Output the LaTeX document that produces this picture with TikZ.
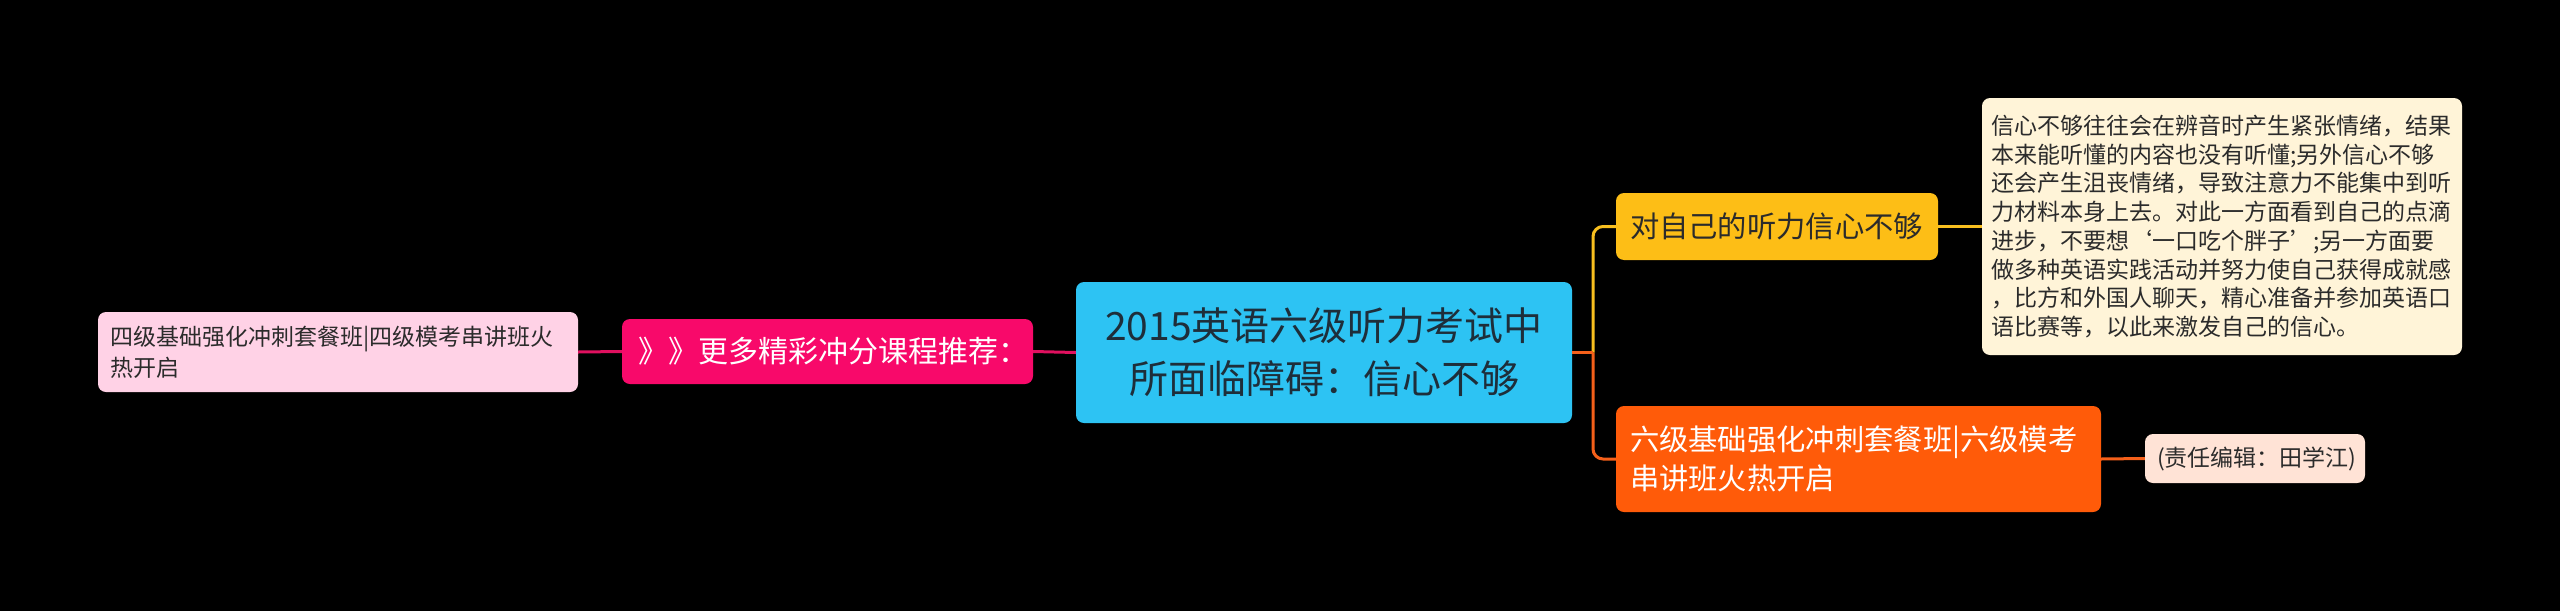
\documentclass[tikz,border=0pt]{standalone}
\usepackage{fontspec}
\setmainfont{Noto Sans CJK SC}
\definecolor{bgc}{HTML}{000000}
\definecolor{rootc}{HTML}{2DC3F3}
\definecolor{roottxt}{HTML}{1E2E3A}
\definecolor{magc}{HTML}{F8096A}
\definecolor{magline}{HTML}{E0105F}
\definecolor{pinkc}{HTML}{FFD2E6}
\definecolor{goldc}{HTML}{FDBE16}
\definecolor{goldline}{HTML}{F8BF1F}
\definecolor{tanc}{HTML}{FFF4D8}
\definecolor{orangec}{HTML}{FF5B09}
\definecolor{orangeline}{HTML}{F5601A}
\definecolor{peachc}{HTML}{FFE3D6}
\definecolor{darktxt}{HTML}{2B2B2B}
\tikzset{
  box/.style={rounded corners=8pt, inner ysep=0pt, draw=none},
  conn/.style={line width=3pt},
}
\begin{document}
\begin{tikzpicture}[x=1pt,y=-1pt]
\fill[bgc] (0,0) rectangle (2560,611);
\useasboundingbox (0,0) rectangle (2560,611);

% root
\node[box, fill=rootc, text=roottxt, minimum width=496pt, minimum height=141pt,
      text width=470pt, inner xsep=13pt, align=center,
      font=\fontsize{39}{53}\selectfont] (root) at (1324,352.5)
  {2015英语六级听力考试中\\所面临障碍：信心不够};

% left branch
\node[box, fill=magc, text=white, minimum height=65pt,
      text width=379pt, inner xsep=16pt, align=left,
      font=\fontsize{30}{38}\selectfont] (recommend) at (827.5,351.5)
  {》》更多精彩冲分课程推荐：};
\node[box, fill=pinkc, text=darktxt, minimum height=80pt,
      text width=456pt, inner xsep=12pt, align=left,
      font=\fontsize{23}{31}\selectfont] (course4) at (338,352)
  {四级基础强化冲刺套餐班|四级模考串讲班火\\热开启};

% right upper branch
\node[box, fill=goldc, text=darktxt, minimum height=67pt,
      text width=294pt, inner xsep=14pt, align=left,
      font=\fontsize{29.3}{38}\selectfont] (confidence) at (1777,226.5)
  {对自己的听力信心不够};
\node[box, fill=tanc, text=darktxt, minimum height=257pt,
      text width=462pt, inner xsep=9pt, align=left,
      font=\fontsize{23}{28.7}\selectfont] (detail) at (2222,226.5)
  {信心不够往往会在辨音时产生紧张情绪，结果\\
   本来能听懂的内容也没有听懂;另外信心不够\\
   还会产生沮丧情绪，导致注意力不能集中到听\\
   力材料本身上去。对此一方面看到自己的点滴\\
   进步，不要想‘一口吃个胖子’;另一方面要\\
   做多种英语实践活动并努力使自己获得成就感\\
   ，比方和外国人聊天，精心准备并参加英语口\\
   语比赛等，以此来激发自己的信心。};

% right lower branch
\node[box, fill=orangec, text=white, minimum height=106pt,
      text width=457pt, inner xsep=14pt, align=left,
      font=\fontsize{29.3}{39}\selectfont] (course6) at (1858.5,459)
  {六级基础强化冲刺套餐班|六级模考\\串讲班火热开启};
\node[box, fill=peachc, text=darktxt, minimum height=49pt,
      text width=196pt, inner xsep=12pt, align=left,
      font=\fontsize{23}{29}\selectfont] (editor) at (2255,458.5)
  {(责任编辑：田学江)};

% connectors
\coordinate (j) at (1593,352.5);
\draw[conn, magline] (root.west) -- (recommend.east);
\draw[conn, magline] (recommend.west) -- (course4.east);
\draw[conn, goldline, rounded corners=10pt] (j) |- (confidence.west);
\draw[conn, orangeline, rounded corners=10pt] (j) |- (course6.west);
\draw[conn, orangeline] (root.east) -- (j);
\draw[conn, goldline] (confidence.east) -- (detail.west);
\draw[conn, orangeline] (course6.east) -- (editor.west);
\end{tikzpicture}
\end{document}
